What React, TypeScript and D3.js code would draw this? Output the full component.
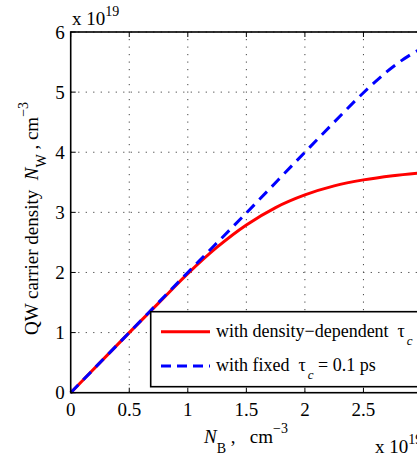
import React, { useEffect, useRef } from 'react'
import * as d3 from 'd3'

// carrier density in the barrier, x 10^19 cm^-3
const nBRed = [0, 0.25, 0.5, 0.75, 1, 1.25, 1.5, 1.75, 2, 2.25, 2.5, 2.75, 3]
const nWRed = [0, 0.5, 1.0, 1.49, 1.98, 2.42, 2.79, 3.08, 3.29, 3.44, 3.54, 3.61, 3.66]

const nBBlue = [0, 0.5, 1, 1.5, 2, 2.25, 2.5, 2.6, 2.7, 2.8, 2.9, 3]
const nWBlue = [0, 1.0, 2.0, 2.99, 4.0, 4.5, 4.99, 5.17, 5.34, 5.49, 5.62, 5.73]

const xTicks = [0, 0.5, 1, 1.5, 2, 2.5, 3]
const yTicks = [0, 1, 2, 3, 4, 5, 6]

const W = 417
const H = 457
const FONT = '"Liberation Serif", "Times New Roman", serif'
const NB = '\u00a0'

const x = d3.scaleLinear().domain([0, 3]).range([70.7, 422])
const y = d3.scaleLinear().domain([0, 6]).range([392.7, 32])

const App = () => {
  const svgRef = useRef<SVGSVGElement>(null)

  useEffect(() => {
    const svg = d3.select(svgRef.current)
    svg.selectAll('*').remove()

    svg.append('rect').attr('width', W).attr('height', H).attr('fill', 'white')

    // grid
    const grid = svg.append('g').attr('stroke', '#444').attr('stroke-width', 1).attr('stroke-dasharray', '1.2,6.3')
    xTicks.slice(1).forEach((t) => {
      grid.append('line').attr('x1', x(t)).attr('x2', x(t)).attr('y1', y(0)).attr('y2', y(6))
    })
    yTicks.slice(1).forEach((t) => {
      grid.append('line').attr('y1', y(t)).attr('y2', y(t)).attr('x1', x(0)).attr('x2', x(3))
    })

    // curves
    const line = d3
      .line<number>()
      .x((d) => x(d))
      .curve(d3.curveMonotoneX)

    svg
      .append('path')
      .datum(nBRed)
      .attr('d', line.y((d, i) => y(nWRed[i])))
      .attr('fill', 'none')
      .attr('stroke', '#ff0000')
      .attr('stroke-width', 3)

    svg
      .append('path')
      .datum(nBBlue)
      .attr('d', line.y((d, i) => y(nWBlue[i])))
      .attr('fill', 'none')
      .attr('stroke', '#0000ff')
      .attr('stroke-width', 3)
      .attr('stroke-dasharray', '11,7')

    // axes box
    const axis = svg.append('g').attr('stroke', 'black').attr('stroke-width', 1.6).attr('fill', 'none')
    axis.append('rect').attr('x', x(0)).attr('y', y(6)).attr('width', x(3) - x(0)).attr('height', y(0) - y(6))
    xTicks.forEach((t) => {
      axis.append('line').attr('x1', x(t)).attr('x2', x(t)).attr('y1', y(0)).attr('y2', y(0) - 5).attr('stroke-width', 1)
      axis.append('line').attr('x1', x(t)).attr('x2', x(t)).attr('y1', y(6)).attr('y2', y(6) + 5).attr('stroke-width', 1)
    })
    yTicks.forEach((t) => {
      axis.append('line').attr('y1', y(t)).attr('y2', y(t)).attr('x1', x(0)).attr('x2', x(0) + 5).attr('stroke-width', 1)
    })

    // tick labels
    const labels = svg.append('g').attr('font-family', FONT).attr('font-size', 19).attr('fill', 'black')
    xTicks.forEach((t) => {
      labels.append('text').attr('x', x(t)).attr('y', 416).attr('text-anchor', 'middle').text(String(t))
    })
    yTicks.forEach((t) => {
      labels.append('text').attr('x', x(0) - 6).attr('y', y(t)).attr('dy', '0.35em').attr('text-anchor', 'end').text(String(t))
    })

    // exponent labels
    const exp1 = labels.append('text').attr('x', 72).attr('y', 25)
    exp1.append('tspan').text('x 10')
    exp1.append('tspan').attr('font-size', 14).attr('dy', -9).text('19')
    const exp2 = labels.append('text').attr('x', 375).attr('y', 453)
    exp2.append('tspan').text('x 10')
    exp2.append('tspan').attr('font-size', 14).attr('dy', -9).text('19')

    // x axis label
    const xl = labels.append('text').attr('x', 204).attr('y', 443)
    xl.append('tspan').attr('font-style', 'italic').text('N')
    xl.append('tspan').attr('font-size', 14).attr('dy', 10).text('B')
    xl.append('tspan').attr('dy', -10).text(`${NB},${NB}${NB}${NB}cm`)
    xl.append('tspan').attr('font-size', 14).attr('dy', -10).text('−3')

    // y axis label
    const yl = labels
      .append('text')
      .attr('transform', 'translate(37.5,335) rotate(-90)')
    yl.append('tspan').text(`QW carrier density${NB}${NB}`)
    yl.append('tspan').attr('font-style', 'italic').text('N')
    yl.append('tspan').attr('font-size', 14).attr('dy', 8).text('W')
    yl.append('tspan').attr('dy', -8).text(`${NB},${NB}cm`)
    yl.append('tspan').attr('font-size', 14).attr('dy', -10).text('−3')

    // legend
    const lg = svg.append('g')
    lg.append('rect')
      .attr('x', 150.7)
      .attr('y', 311.7)
      .attr('width', 300)
      .attr('height', 75)
      .attr('fill', 'white')
      .attr('stroke', 'black')
      .attr('stroke-width', 1.6)
    lg.append('line').attr('x1', 161).attr('x2', 210).attr('y1', 331.7).attr('y2', 331.7).attr('stroke', '#ff0000').attr('stroke-width', 3)
    lg.append('line')
      .attr('x1', 161)
      .attr('x2', 210)
      .attr('y1', 366)
      .attr('y2', 366)
      .attr('stroke', '#0000ff')
      .attr('stroke-width', 3)
      .attr('stroke-dasharray', '10,6')

    const lt = lg.append('g').attr('font-family', FONT).attr('font-size', 18).attr('fill', 'black')
    const l1 = lt.append('text').attr('x', 216).attr('y', 337)
    l1.append('tspan').text(`with density−dependent${NB}${NB}τ`)
    l1.append('tspan').attr('font-size', 13).attr('font-style', 'italic').attr('dx', 2).attr('dy', 8).text('c')
    const l2 = lt.append('text').attr('x', 216).attr('y', 371)
    l2.append('tspan').text(`with fixed${NB}${NB}τ`)
    l2.append('tspan').attr('font-size', 13).attr('font-style', 'italic').attr('dx', 2).attr('dy', 8).text('c')
    l2.append('tspan').attr('dy', -8).text(`${NB}=${NB}0.1 ps`)
  }, [])

  return (
    <svg
      ref={svgRef}
      width={W}
      height={H}
      style={{ position: 'absolute', left: 0, top: 0 }}
    ></svg>
  )
}

export default App
